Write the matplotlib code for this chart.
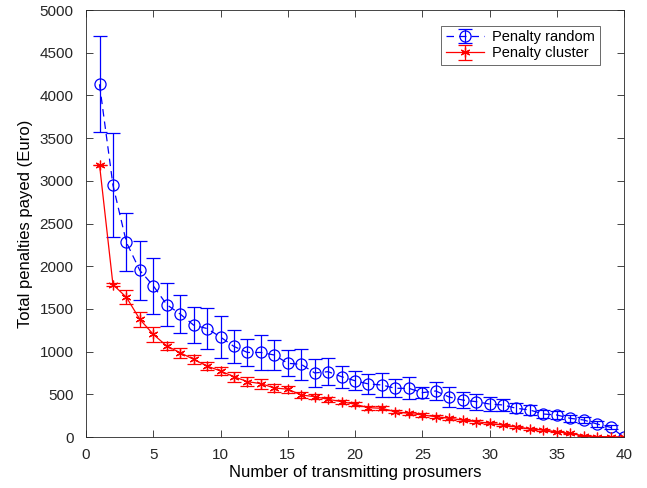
import numpy as np
import matplotlib
matplotlib.use("Agg")
import matplotlib.pyplot as plt

plt.rcParams['font.family'] = ['Liberation Sans', 'DejaVu Sans']

# number of transmitting prosumers
n_prosumers = list(range(1, 41))

penalty_random = [4130, 2950, 2280, 1950, 1770, 1550, 1440, 1310, 1270, 1170,
                  1060, 990, 990, 960, 863, 851, 750, 765, 706, 659,
                  621, 609, 570, 570, 519, 539, 468, 433, 414, 386,
                  375, 336, 316, 269, 258, 219, 199, 152, 113, 0]
err_random = [560, 610, 340, 345, 330, 250, 220, 210, 240, 250,
              190, 160, 200, 175, 150, 185, 160, 158, 130, 112,
              120, 135, 105, 130, 68, 105, 115, 95, 95, 78,
              72, 60, 55, 50, 45, 40, 35, 30, 25, 0]

penalty_cluster = [3190, 1785, 1636, 1378, 1202, 1066, 987, 909, 831, 773,
                   706, 648, 625, 574, 560, 492, 472, 441, 414, 383,
                   343, 336, 296, 277, 258, 238, 219, 199, 180, 160,
                   141, 121, 94, 82, 62, 43, 14, 5, 3, 0]
err_cluster = [0, 20, 80, 90, 88, 45, 58, 50, 50, 50,
               58, 55, 60, 50, 40, 32, 30, 28, 25, 25,
               22, 22, 20, 20, 18, 16, 16, 14, 14, 12,
               12, 10, 10, 8, 8, 6, 4, 0, 0, 0]

fig = plt.figure(figsize=(6.47, 4.88), dpi=100)
ax = fig.add_axes([0.133, 0.1045, 0.8315, 0.875])

ax.errorbar(n_prosumers, penalty_random, yerr=err_random, color=(0, 0, 1),
            linestyle='--', linewidth=0.9, marker='o', markersize=8,
            markerfacecolor='none', markeredgewidth=0.9, capsize=5,
            elinewidth=0.9, capthick=0.9, dashes=(6, 4),
            label='Penalty random')
ax.errorbar(n_prosumers, penalty_cluster, yerr=err_cluster, color=(1, 0, 0),
            linestyle='-', linewidth=0.9, marker=(6, 2, 0), markersize=7,
            markeredgewidth=0.9, capsize=5, elinewidth=0.9, capthick=0.9,
            label='Penalty cluster')

ax.set_xlim(0, 40)
ax.set_ylim(0, 5000)
ax.set_xticks(range(0, 41, 5))
ax.set_yticks(range(0, 5001, 500))
ax.tick_params(direction='in', top=True, right=True, labelsize=11,
               length=5, width=0.6, pad=8, colors='#262626')
ax.tick_params(axis='y', pad=9)
for sp in ax.spines.values():
    sp.set_linewidth(0.6)
    sp.set_color('#262626')

ax.set_xlabel('Number of transmitting prosumers', fontsize=12, labelpad=2)
ax.set_ylabel('Total penalties payed (Euro)', fontsize=12, labelpad=5)

leg = ax.legend(loc='upper right', bbox_to_anchor=(0.968, 0.98),
                fontsize=10.5, frameon=True, fancybox=False, handlelength=2.6,
                borderpad=0.3, labelspacing=0.15, handletextpad=0.6)
leg.get_frame().set_edgecolor('#262626')
leg.get_frame().set_linewidth(0.6)

fig.savefig('out.png', dpi=100)
